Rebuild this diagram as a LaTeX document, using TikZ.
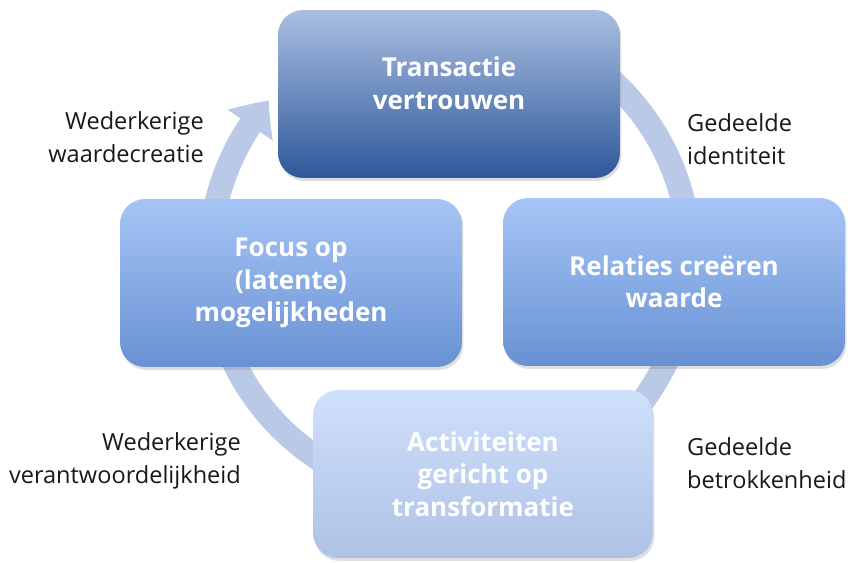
\documentclass[tikz,border=0pt]{standalone}
\usepackage{fontspec}
\setmainfont{Open Sans}
\usetikzlibrary{arrows.meta,bending,shadows}

\definecolor{ringblauw}{RGB}{186,201,229}
\definecolor{donkerboven}{RGB}{170,190,226}
\definecolor{donkeronder}{RGB}{46,88,154}
\definecolor{middenboven}{RGB}{166,197,246}
\definecolor{middenonder}{RGB}{104,145,211}
\definecolor{lichtboven}{RGB}{208,224,251}
\definecolor{lichtonder}{RGB}{174,194,230}

\tikzset{
    blok/.style={rounded corners=0.5cm, minimum width=6.84cm, minimum height=3.36cm,
        align=center, text=white, font=\bfseries\fontsize{14.8}{18.4}\selectfont,
        drop shadow={opacity=0.25, shadow xshift=0.03cm, shadow yshift=-0.06cm}},
    kant/.style={font=\fontsize{13.4}{18.8}\selectfont, text=black!90},
}

\begin{document}
\begin{tikzpicture}[x=0.02cm,y=-0.02cm]
                \useasboundingbox[fill=white] (0,0) rectangle (853,563);

                % kringloop achter de blokken
                \coordinate (midden) at (450,258);
                \draw[ringblauw, line width=0.48cm, -{Triangle[bend,width=1.05cm,length=0.62cm]}]
                    (midden) ++(60:4.8cm) arc[start angle=60, end angle=-221, radius=4.8cm];

                \node[blok, top color=donkerboven, bottom color=donkeronder] (transactie) at (449,94) {Transactie\\vertrouwen\\[-6pt]};
                \node[blok, top color=middenboven, bottom color=middenonder] (relaties) at (674,282) {Relaties creëren\\waarde};
                \node[blok, top color=lichtboven, bottom color=lichtonder, minimum width=6.8cm] (activiteiten) at (483,474) {Activiteiten\\gericht op\\transformatie};
                \node[blok, top color=middenboven, bottom color=middenonder] (focus) at (291,283) {Focus op\\(latente)\\mogelijkheden};

                \node[kant, anchor=east, align=right] (waardecreatie) at (210,137) {Wederkerige\\waardecreatie};
                \node[kant, anchor=west, align=left] (identiteit) at (681,139) {Gedeelde\\identiteit};
                \node[kant, anchor=east, align=right] (verantwoordelijk) at (247,461) {Wederkerige\\verantwoordelijkheid};
                \node[kant, anchor=west, align=left] (betrokken) at (681,463) {Gedeelde\\betrokkenheid};

\end{tikzpicture}
\end{document}
